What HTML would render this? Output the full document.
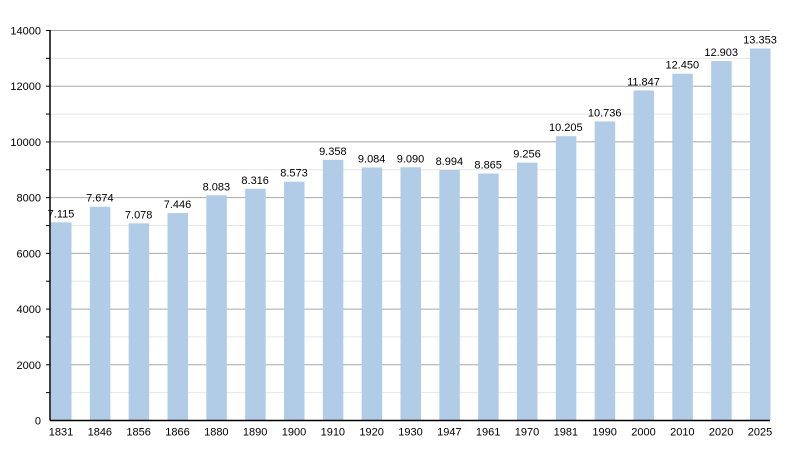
<!DOCTYPE html>
<html><head><style>body{margin:0;background:#fff}svg{display:block}text{font-family:"Liberation Sans",sans-serif;font-size:11px;fill:#000}</style></head><body>
<svg width="800" height="450" xmlns="http://www.w3.org/2000/svg">
<g id="g"></g>
</svg>
<script>
const vals=[7115,7674,7078,7446,8083,8316,8573,9358,9084,9090,8994,8865,9256,10205,10736,11847,12450,12903,13353];
const yrs=[1831,1846,1856,1866,1880,1890,1900,1910,1920,1930,1947,1961,1970,1981,1990,2000,2010,2020,2025];
const y0=420.5,sc=390/14000,x0=50,x1=770;
let s='';
for(let v=1000;v<=14000;v+=1000){const y=y0-v*sc;
s+=`<line x1="${x0}" x2="${x1}" y1="${y}" y2="${y}" stroke="${v%2000?'#e6e6e6':'#a8a8a8'}" stroke-width="1"/>`;
s+=`<line x1="${x0-4}" x2="${x0}" y1="${y}" y2="${y}" stroke="#000"/>`;
if(v%2000==0)s+=`<text x="${x0-9}" y="${y+4}" text-anchor="end">${v}</text>`;}
s+=`<text x="${x0-9}" y="${y0+4}" text-anchor="end">0</text>`;
vals.forEach((v,i)=>{const c=61+i*(699/18),h=v*sc;
s+=`<rect x="${c-10}" y="${y0-h}" width="20.5" height="${h}" fill="#b0cce6"/>`;
s+=`<text x="${c}" y="${y0-h-5}" text-anchor="middle">${(v/1000).toFixed(3)}</text>`;
s+=`<text x="${c}" y="${y0+15}" text-anchor="middle">${yrs[i]}</text>`;});
s+=`<line x1="${x0}" x2="${x0}" y1="30" y2="${y0}" stroke="#000" stroke-width="1.5"/>`;
s+=`<line x1="${x0}" x2="${x1}" y1="${y0}" y2="${y0}" stroke="#000" stroke-width="1.5"/>`;
document.getElementById('g').innerHTML=s;
</script>
</body></html>
